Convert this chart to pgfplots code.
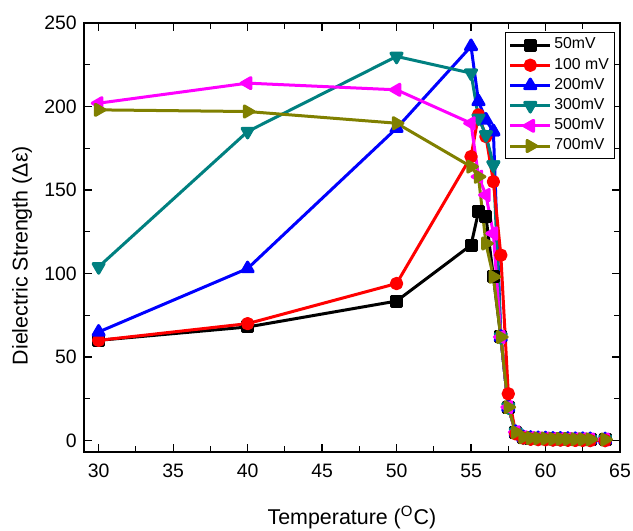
\documentclass[border=0pt]{standalone}
\usepackage{fontspec}
\setmainfont{Liberation Sans}
\usepackage{pgfplots}
\pgfplotsset{compat=1.18}
\definecolor{cteal}{RGB}{0,128,128}
\definecolor{colive}{RGB}{128,128,0}
\definecolor{cmag}{RGB}{255,0,255}
\definecolor{cred}{RGB}{255,0,0}
\definecolor{cblue}{RGB}{0,0,255}
\begin{document}
\begin{tikzpicture}
\begin{axis}[name=ax, scale only axis, width=268pt, height=214.5pt,
 xmin=29, xmax=65, ymin=-7, ymax=250,
 xtick={30,35,...,65}, ytick={0,50,...,250},
 minor x tick num=1, minor y tick num=1,
 major tick length=4pt, minor tick length=3pt,
 tick style={black, line width=0.6pt},
 axis line style={line width=0.8pt},
 tick label style={font=\fontsize{9.7}{11}\selectfont},
 xticklabel style={yshift=-2.5pt},
 /pgf/number format/assume math mode=true,
 xlabel={Temperature (\textsuperscript{O}C)},
 ylabel={Dielectric Strength (Δε)},
 label style={font=\fontsize{10.7}{12}\selectfont},
 xlabel style={at={(axis description cs:0.5,0)}, anchor=north, yshift=-26.5pt, inner sep=0pt},
 ylabel style={at={(axis description cs:-0.115,0.458)}, anchor=center, inner sep=0pt},
 every axis plot/.append style={line width=1.5pt, line join=round},
 legend style={at={(axis description cs:1,1)}, anchor=north east, xshift=-2.5pt, yshift=-4.5pt,
   font=\fontsize{7.9}{9}\selectfont, draw=black, line width=0.5pt,
   inner xsep=1.5pt, inner ysep=1.2pt, row sep=0pt,
   nodes={inner sep=1.3pt, text height=5.7pt, text depth=1.8pt}},
 legend cell align=left,
 legend image code/.code={\draw[#1, mark repeat=2, mark phase=2] plot coordinates {(0pt,0pt) (10pt,0pt) (20pt,0pt)};},
]
% 50 mV
\addplot[color=black, mark=square*, mark size=2.5pt, mark options={solid}] coordinates {
(30,60) (40,68) (50,83.5) (55,117) (55.5,137) (56,134) (56.5,98) (57,62) (57.5,20) (58,5)
(58.5,2) (59,1.5) (59.5,1.3) (60,1.2) (60.5,1) (61,1) (61.5,0.9) (62,0.8) (62.5,0.8) (63,0.7) (64,0.6)};
\addlegendentry{50mV}
% high-temperature parts of 200, 300, 500 mV (drawn beneath the 100 mV curve)
\addplot[forget plot, color=cblue, mark=triangle*, mark size=3.2pt, mark options={solid}] coordinates {
(56.5,185) (57,62) (57.5,20) (58,5)
(58.5,2) (59,1.5) (59.5,1.3) (60,1.2) (60.5,1) (61,1) (61.5,0.9) (62,0.8) (62.5,0.8) (63,0.7) (64,0.6)};
\addplot[forget plot, color=cteal, mark=triangle*, mark size=3.2pt, mark options={solid, rotate=180}] coordinates {
(56.5,165) (57,62) (57.5,20) (58,5)
(58.5,2) (59,1.5) (59.5,1.3) (60,1.2) (60.5,1) (61,1) (61.5,0.9) (62,0.8) (62.5,0.8) (63,0.7) (64,0.6)};
\addplot[forget plot, color=cmag, mark=triangle*, mark size=3.2pt, mark options={solid, rotate=90}] coordinates {
(56.5,124) (57,62) (57.5,20) (58,5)
(58.5,2) (59,1.5) (59.5,1.3) (60,1.2) (60.5,1) (61,1) (61.5,0.9) (62,0.8) (62.5,0.8) (63,0.7) (64,0.6)};
% 100 mV
\addplot[color=cred, mark=*, mark size=2.6pt, mark options={solid}] coordinates {
(30,60) (40,70) (50,94) (55,170) (55.5,195) (56,182) (56.5,155) (57,111) (57.5,28) (58,4)
(58.5,1.5) (59,0.8) (59.5,0.6) (60,0.5) (60.5,0.3) (61,0.3) (61.5,0.2) (62,0.1) (62.5,0.1) (63,0) (64,0)};
\addlegendentry{100 mV}
% 200 mV
\addplot[color=cblue, mark=triangle*, mark size=3.2pt, mark options={solid}] coordinates {
(30,65) (40,103) (50,187) (55,236) (55.5,203) (56,192) (56.5,185)};
\addlegendentry{200mV}
% 300 mV
\addplot[color=cteal, mark=triangle*, mark size=3.2pt, mark options={solid, rotate=180}] coordinates {
(30,104) (40,185) (50,230) (55,220) (55.5,193) (56,183) (56.5,165)};
\addlegendentry{300mV}
% 500 mV
\addplot[color=cmag, mark=triangle*, mark size=3.2pt, mark options={solid, rotate=90}] coordinates {
(30,202) (40,214) (50,210) (55,190) (55.5,158) (56,147) (56.5,124)};
\addlegendentry{500mV}
% 700 mV
\addplot[color=colive, mark=triangle*, mark size=3.2pt, mark options={solid, rotate=-90}] coordinates {
(30,198) (40,197) (50,190) (55,164) (55.5,158) (56,118) (56.5,98) (57,62) (57.5,20) (58,5)
(58.5,2) (59,1.5) (59.5,1.3) (60,1.2) (60.5,1) (61,1) (61.5,0.9) (62,0.8) (62.5,0.8) (63,0.7) (64,0.6)};
\addlegendentry{700mV}
\end{axis}
\pgfresetboundingbox
\path ([xshift=-41.85pt,yshift=-39pt]ax.south west) rectangle ([xshift=6.5pt,yshift=11.5pt]ax.north east);
\end{tikzpicture}
\end{document}
